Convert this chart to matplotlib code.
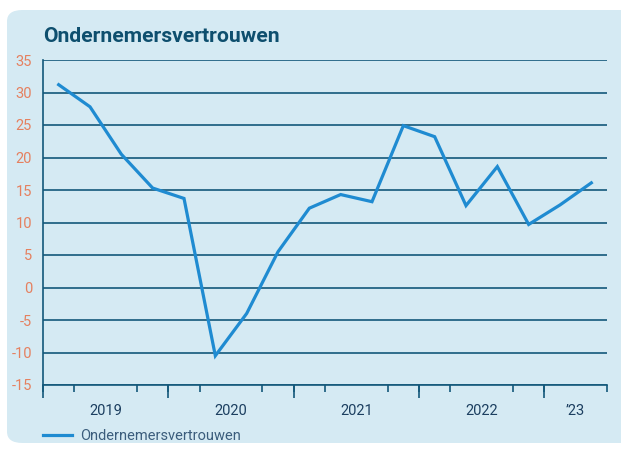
import matplotlib
matplotlib.use("Agg")
import matplotlib.pyplot as plt
from matplotlib.patches import FancyBboxPatch

plt.rcParams['font.family'] = ['Roboto', 'DejaVu Sans']

# quarterly values, Q1 2019 .. Q2 2023
values = [31.2, 27.8, 20.5, 15.3, 13.7, -10.5, -4.0, 5.5, 12.2, 14.3,
          13.2, 24.9, 23.2, 12.6, 18.6, 9.7, 12.7, 16.1]
year_labels = ['2019', '2020', '2021', '2022', '\u201923']
year_centers = [2, 6, 10, 14, 17]
year_bounds = [0, 4, 8, 12, 16]
yticks = [-15, -10, -5, 0, 5, 10, 15, 20, 25, 30, 35]

bg = '#d5eaf3'
dark = '#13587a'
orange = '#e5805f'
blue = '#1f8bd1'

W, H = 621, 451
fig = plt.figure(figsize=(W / 100, H / 100), dpi=100)
fig.patch.set_facecolor('white')
box = FancyBboxPatch((7 / W, 1 - 443 / H), 640 / W, 433 / H,
                     boxstyle='round,pad=0,rounding_size=0.025',
                     transform=fig.transFigure, facecolor=bg, edgecolor='none',
                     zorder=-10)
fig.patches.append(box)

ax = fig.add_axes([43 / W, 1 - 385 / H, 564 / W, 325 / H])
ax.set_facecolor('none')

x = [i + 0.5 for i in range(len(values))]
ax.plot(x, values, color=blue, lw=2.3, solid_joinstyle='miter',
        label='Ondernemersvertrouwen', zorder=3)

ax.set_xlim(0, 18)
ax.set_ylim(-15, 35)
ax.set_yticks(yticks)
ax.set_yticklabels([str(v) for v in yticks])
ax.grid(axis='y', color=dark, lw=1.2)
ax.tick_params(axis='y', length=0, pad=8, labelsize=10.5, labelcolor=orange)

for s in ['top', 'right']:
    ax.spines[s].set_visible(False)
for s in ['left', 'bottom']:
    ax.spines[s].set_color(dark)
    ax.spines[s].set_linewidth(1.2)

ax.set_xticks(year_centers)
ax.set_xticklabels(year_labels)
ax.set_xticks(range(0, 19), minor=True)
ax.tick_params(axis='x', which='major', length=0, pad=14, labelsize=10.5,
               labelcolor='#1c3f60')
ax.tick_params(axis='x', which='minor', length=5, width=1.2, color=dark)

sec = ax.secondary_xaxis('bottom')
sec.set_xticks(year_bounds)
sec.set_xticklabels([])
sec.tick_params(length=9, width=1.2, color=dark)
sec.spines['bottom'].set_visible(False)

fig.text(43 / W, 1 - 42 / H, 'Ondernemersvertrouwen', fontsize=15.2,
         fontweight='bold', color='#0e4f6e', va='baseline', ha='left')

leg = ax.legend(loc='center left', bbox_to_anchor=(43 / W, 1 - 436 / H),
                bbox_transform=fig.transFigure, frameon=False,
                borderpad=0, borderaxespad=0, handlelength=2.0,
                handletextpad=0.55, fontsize=10.5)
for t in leg.get_texts():
    t.set_color('#3b5d7c')

fig.savefig('out.png', dpi=100, facecolor='white')
